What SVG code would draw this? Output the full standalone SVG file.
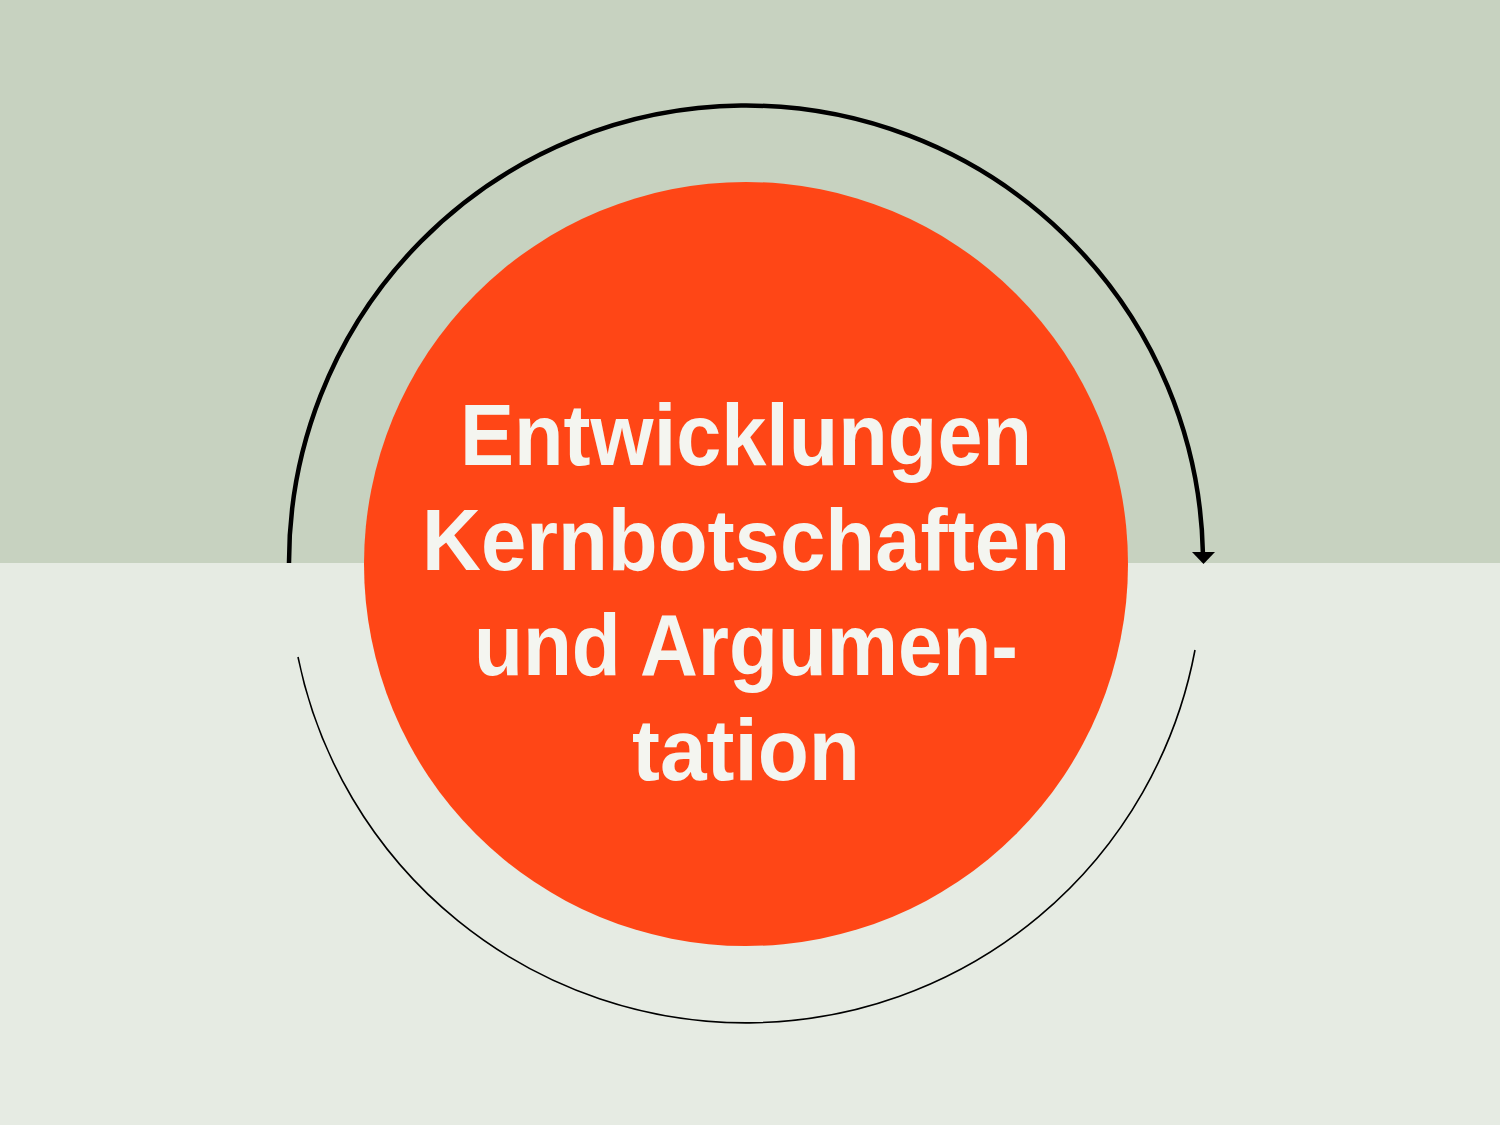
<svg xmlns="http://www.w3.org/2000/svg" width="1500" height="1125" viewBox="0 0 1500 1125">
  <style>
    .lbl { font-family: "Liberation Sans", Arial, sans-serif; font-weight: bold; font-size: 88px; fill: #f4f5f0; }
    .arc { fill: none; stroke: #000; }
  </style>
  <rect x="0" y="0" width="1500" height="563" fill="#c7d2c0"/>
  <rect x="0" y="563" width="1500" height="562" fill="#e6ebe3"/>
  <g id="connectors">
    <path class="arc" stroke-width="4.5" d="M 289 563 A 457 457 0 0 1 1202.9 553"/>
    <polygon points="1192,552 1215,552 1203.5,564" fill="#000"/>
    <path class="arc" stroke-width="1.6" d="M 298 657 A 457 457 0 0 0 1195 650"/>
  </g>
  <g id="node-center">
    <circle cx="746" cy="564" r="382" fill="#ff4616"/>
    <text class="lbl" x="460" y="465" textLength="572" lengthAdjust="spacingAndGlyphs">Entwicklungen</text>
    <text class="lbl" x="422" y="570" textLength="648" lengthAdjust="spacingAndGlyphs">Kernbotschaften</text>
    <text class="lbl" x="474" y="675" textLength="544" lengthAdjust="spacingAndGlyphs">und Argumen-</text>
    <text class="lbl" x="632" y="780" textLength="228" lengthAdjust="spacingAndGlyphs">tation</text>
  </g>
</svg>
